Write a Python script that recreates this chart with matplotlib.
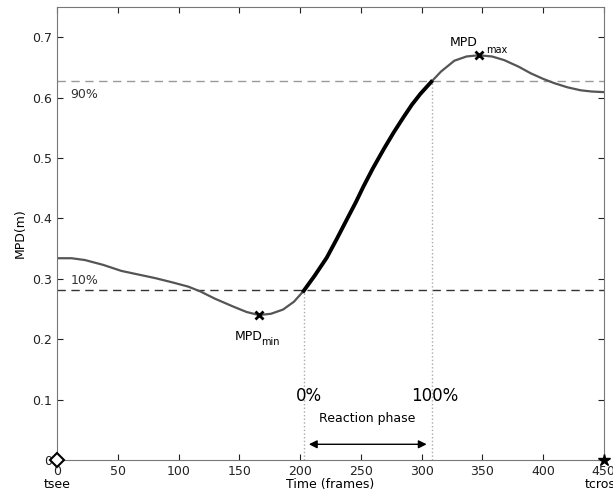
import matplotlib.pyplot as plt
import numpy as np

# curve (time in frames, MPD in m)
t = [0, 12, 23, 38, 53, 67, 81, 95, 108, 118, 130, 145, 156, 166, 176, 186, 195,
     203, 212, 222, 230, 239, 246, 252, 260, 269, 277, 285, 292, 299, 308,
     316, 327, 337, 347, 358, 368, 380, 390, 400, 409, 420, 431, 440, 450]
mpd = [0.334, 0.334, 0.331, 0.323, 0.313, 0.307, 0.301, 0.294, 0.287, 0.279,
       0.267, 0.254, 0.245, 0.240, 0.242, 0.249, 0.262,
       0.280, 0.305, 0.335, 0.365, 0.400, 0.427, 0.452, 0.483, 0.515, 0.542,
       0.567, 0.588, 0.606, 0.626,
       0.643, 0.661, 0.668, 0.670, 0.668, 0.662, 0.651, 0.640, 0.631, 0.624,
       0.617, 0.612, 0.610, 0.609]

t_min, mpd_min = 166, 0.240
t_max, mpd_max = 347, 0.670
lev10 = 0.281
lev90 = 0.627
t0, t100 = 203, 308.5

xticks = [0, 50, 100, 150, 200, 250, 300, 350, 400, 450]
yticks = [0, 0.1, 0.2, 0.3, 0.4, 0.5, 0.6, 0.7]
yticklabels = ['0', '0.1', '0.2', '0.3', '0.4', '0.5', '0.6', '0.7']

t = np.array(t)
mpd = np.array(mpd)

fig = plt.figure(figsize=(6.13, 4.96), dpi=100)
ax = fig.add_axes([0.093, 0.0726, 0.892, 0.9134])

ax.axhline(lev90, color='#9a9a9a', ls=(0, (6, 4)), lw=1)
ax.axhline(lev10, color='#333333', ls=(0, (6, 4)), lw=1)
ax.plot([t0, t0], [0, lev10], color='#aaaaaa', ls=':', lw=1)
ax.plot([t100, t100], [0, lev90], color='#aaaaaa', ls=':', lw=1)

ax.plot(t, mpd, color='#555555', lw=1.6, solid_joinstyle='round')
sel = (t >= t0) & (t <= t100)
ax.plot(t[sel], mpd[sel], color='black', lw=2.8, solid_joinstyle='round')

ax.plot(t_min, mpd_min, 'x', color='black', ms=6, mew=2)
ax.plot(t_max, mpd_max, 'x', color='black', ms=6, mew=2)
ax.plot(0, 0, 'D', mfc='white', mec='black', ms=7, mew=1.5, clip_on=False, zorder=5)
ax.plot(450, 0, '*', color='black', ms=9, clip_on=False, zorder=5)

ax.text(11, lev90 - 0.012, '90%', fontsize=9, va='top', color='#333333')
ax.text(11, lev10 + 0.006, '10%', fontsize=9, va='bottom', color='#333333')
ax.text(t_min - 20, mpd_min - 0.024, 'MPD', fontsize=9, va='top')
ax.text(t_min + 2, mpd_min - 0.036, 'min', fontsize=7, va='top')
ax.text(t_max - 24, mpd_max + 0.01, 'MPD', fontsize=9, va='bottom')
ax.text(t_max + 6, mpd_max - 0.0, 'max', fontsize=7, va='bottom')

ax.text(t0 + 4, 0.106, '0%', fontsize=12, ha='center', va='center')
ax.text(t100 + 2, 0.106, '100%', fontsize=12, ha='center', va='center')
ax.text(255, 0.068, 'Reaction phase', fontsize=9, ha='center', va='center')
ax.annotate('', xy=(t0 + 2, 0.026), xytext=(t100 - 2, 0.026),
            arrowprops=dict(arrowstyle='<|-|>', color='black', lw=1, mutation_scale=12))

ax.set_xlim(0, 450)
ax.set_ylim(0, 0.75)
ax.set_xticks(xticks)
ax.set_yticks(yticks)
ax.set_yticklabels(yticklabels)
ax.tick_params(direction='in', top=True, right=True, labelsize=9, colors='#222222', length=4)
for s in ax.spines.values():
    s.set_color('#777777')

ax.set_xlabel('Time (frames)', fontsize=9, labelpad=0)
ax.set_ylabel('MPD(m)', fontsize=9)
ax.text(0, -0.04, 'tsee', fontsize=9, ha='center', va='center')
ax.text(450, -0.04, 'tcross', fontsize=9, ha='center', va='center')

fig.savefig('out.png', dpi=100)
